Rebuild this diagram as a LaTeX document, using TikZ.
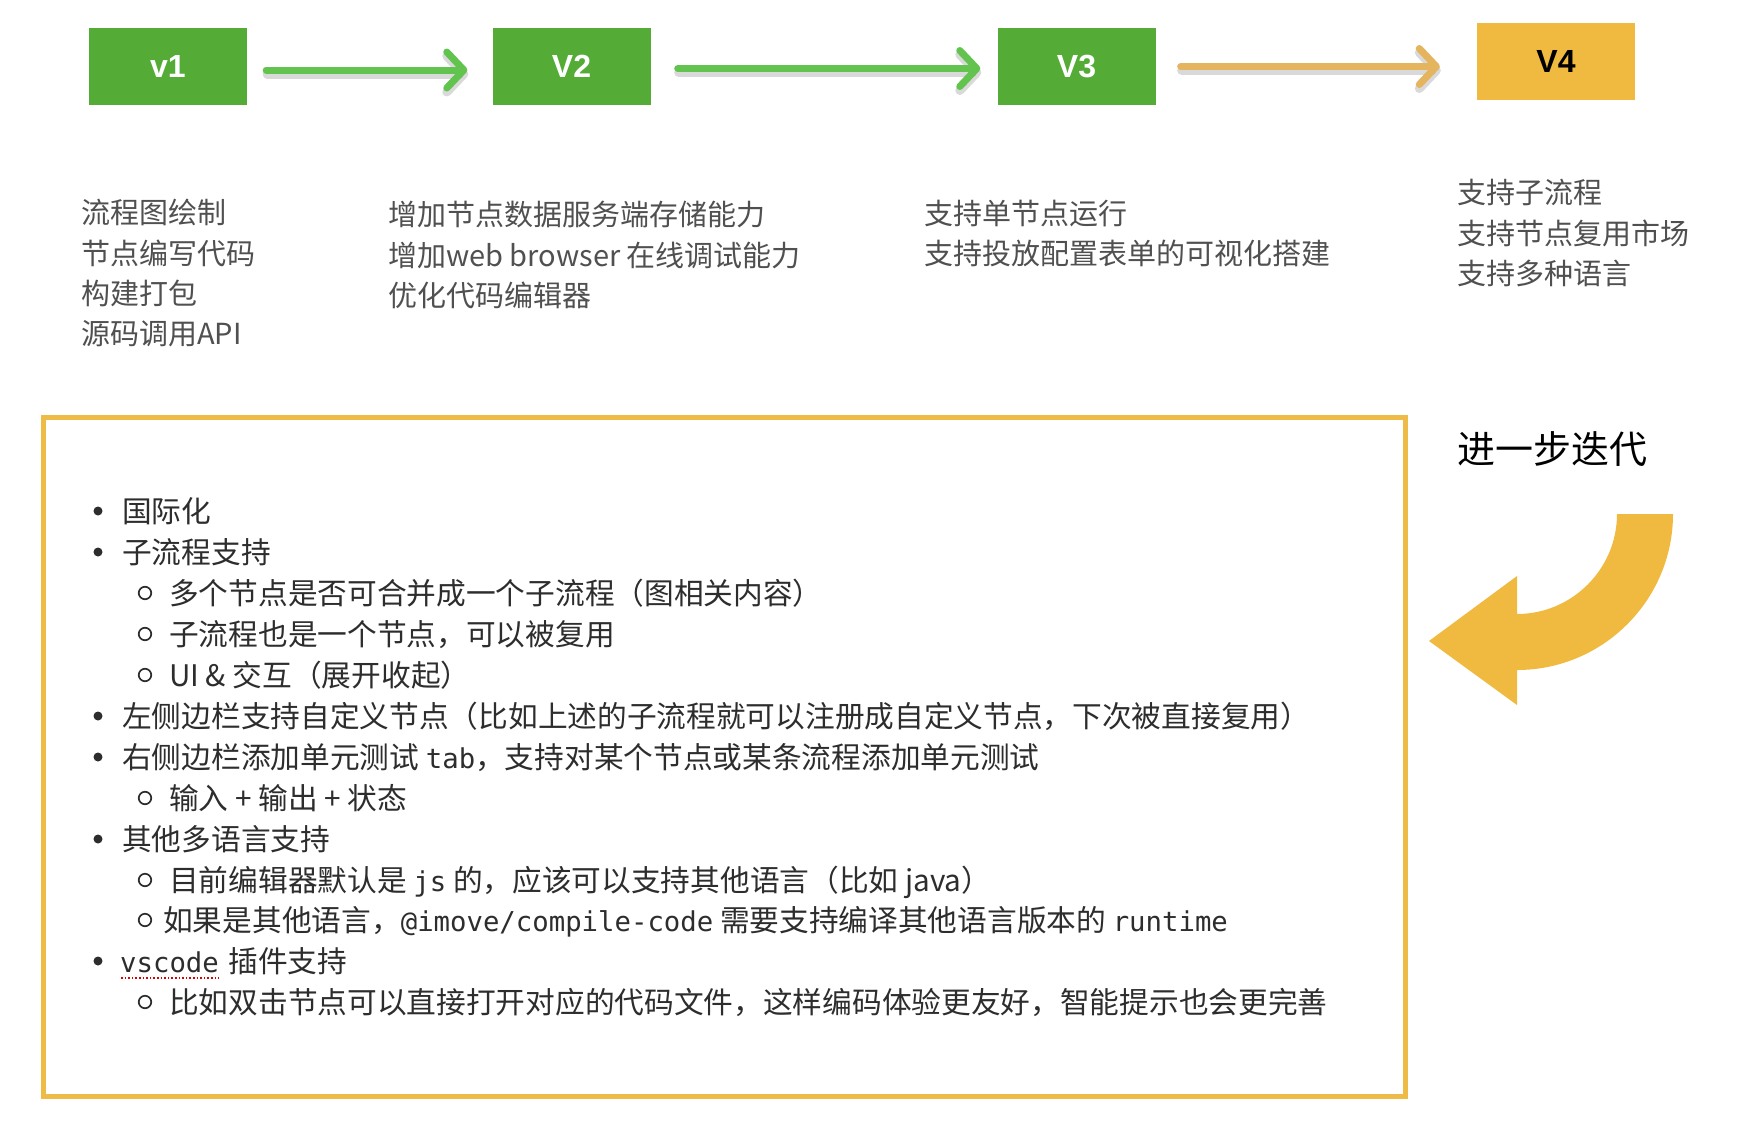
\documentclass[tikz,border=0pt]{standalone}
\usepackage{fontspec}
\setmainfont{Noto Sans CJK SC}
\setmonofont{DejaVu Sans Mono}[Scale=0.92]
\newfontfamily\labelfont{Liberation Sans}
\usetikzlibrary{arrows.meta,calc}
\definecolor{boxgreen}{RGB}{84,171,54}
\definecolor{boxyellow}{RGB}{240,186,64}
\definecolor{arrowgreen}{RGB}{98,196,78}
\definecolor{arrowtan}{RGB}{229,180,94}
\definecolor{panelyellow}{RGB}{238,188,70}
\definecolor{toptext}{RGB}{80,80,80}
\definecolor{listtext}{RGB}{45,45,45}
\tikzset{
  vbox/.style={rectangle, minimum width=158pt, minimum height=77pt, inner sep=0pt,
    font=\labelfont\bfseries\fontsize{32}{32}\selectfont},
  greenbox/.style={vbox, fill=boxgreen, text=white},
  yellowbox/.style={vbox, fill=boxyellow, text=black},
  flowarrow/.style={line width=7pt, line cap=round,
    -{Straight Barb[length=17pt,width=36pt,round]}},
  arrowshadow/.style={flowarrow, draw=black, opacity=0.15, line width=9pt,
    transform canvas={shift={(1pt,-4pt)}}},
  toplabel/.style={anchor=base west, inner sep=0pt, text=toptext,
    font=\fontsize{29}{35}\selectfont},
  listitem/.style={anchor=base west, inner sep=0pt, text=listtext,
    font=\fontsize{29.7}{35}\selectfont},
  dotbullet/.style={circle, fill=listtext, inner sep=0pt, minimum size=9pt},
  ringbullet/.style={circle, draw=listtext, line width=1.7pt, inner sep=0pt, minimum size=12.5pt},
}
\begin{document}
\begin{tikzpicture}[x=1pt,y=-1pt]
\useasboundingbox[fill=white] (0,0) rectangle (1740,1136);

% version boxes
\node[greenbox]  (v1) at (168,66.5) {v1};
\node[greenbox]  (v2) at (571.5,66.5) {V2};
\node[greenbox]  (v3) at (1076.5,66.5) {V3};
\node[yellowbox] (v4) at (1556,61) {V4};

% arrows (shadow + stroke)
\draw[arrowshadow] ($(v1.east)+(19,3.5)$) -- ($(v2.west)+(-25,3.5)$);
\draw[arrowshadow] ($(v2.east)+(27,2)$) -- ($(v3.west)+(-17,2)$);
\draw[arrowshadow] ($(v3.east)+(25,0)$) -- ($(v4.west)+(-37,5.5)$);
\draw[flowarrow, draw=arrowgreen] ($(v1.east)+(19,3.5)$) -- ($(v2.west)+(-25,3.5)$);
\draw[flowarrow, draw=arrowgreen] ($(v2.east)+(27,2)$) -- ($(v3.west)+(-17,2)$);
\draw[flowarrow, draw=arrowtan] ($(v3.east)+(25,0)$) -- ($(v4.west)+(-37,5.5)$);

% feature columns
\node[toplabel] (c1a) at (81,223) {流程图绘制};
\node[toplabel] (c1b) at (81,264) {节点编写代码};
\node[toplabel] (c1c) at (81,304) {构建打包};
\node[toplabel] (c1d) at (81,344) {源码调用API};

\node[toplabel] (c2a) at (388,225) {增加节点数据服务端存储能力};
\node[toplabel] (c2b) at (388,266) {增加web browser 在线调试能力};
\node[toplabel] (c2c) at (388,306) {优化代码编辑器};

\node[toplabel] (c3a) at (924,224) {支持单节点运行};
\node[toplabel] (c3b) at (924,264) {支持投放配置表单的可视化搭建};

\node[toplabel] (c4a) at (1457,203) {支持子流程};
\node[toplabel] (c4b) at (1457,244) {支持节点复用市场};
\node[toplabel] (c4c) at (1457,284) {支持多种语言};

% iteration label and curved arrow
\node[anchor=base west, inner sep=0pt, text=black, font=\fontsize{38}{44}\selectfont]
  (iter) at (1457,463) {进一步迭代};
\fill[boxyellow] (1617,514) -- (1673,514)
  .. controls (1673,600) and (1603,670) .. (1517,670)
  -- (1517,705) -- (1429,641) -- (1517,576) -- (1517,614)
  .. controls (1572,614) and (1617,569) .. (1617,514) -- cycle;

% roadmap panel
\node[draw=panelyellow, line width=5pt, minimum width=1362pt, minimum height=679pt,
  inner sep=0pt] (panel) at (724,756.5) {};

% list
\node[dotbullet]  (b1)  at (98,511)  {};
\node[listitem]   (l1)  at (122,522) {国际化};
\node[dotbullet]  (b2)  at (98,552)  {};
\node[listitem]   (l2)  at (122,563) {子流程支持};
\node[ringbullet] (b3)  at (145,593) {};
\node[listitem]   (l3)  at (169,604) {多个节点是否可合并成一个子流程（图相关内容）};
\node[ringbullet] (b4)  at (145,634) {};
\node[listitem]   (l4)  at (169,645) {子流程也是一个节点，可以被复用};
\node[ringbullet] (b5)  at (145,675) {};
\node[listitem]   (l5)  at (169,686) {UI \& 交互（展开收起）};
\node[dotbullet]  (b6)  at (98,716)  {};
\node[listitem]   (l6)  at (122,727) {左侧边栏支持自定义节点（比如上述的子流程就可以注册成自定义节点，下次被直接复用）};
\node[dotbullet]  (b7)  at (98,757)  {};
\node[listitem]   (l7)  at (122,768) {右侧边栏添加单元测试 \texttt{tab}，支持对某个节点或某条流程添加单元测试};
\node[ringbullet] (b8)  at (145,798) {};
\node[listitem]   (l8)  at (169,809) {输入 + 输出 + 状态};
\node[dotbullet]  (b9)  at (98,839)  {};
\node[listitem]   (l9)  at (122,850) {其他多语言支持};
\node[ringbullet] (b10) at (145,880) {};
\node[listitem]   (l10) at (169,891) {目前编辑器默认是 \texttt{js} 的，应该可以支持其他语言（比如 java）};
\node[ringbullet] (b11) at (145,920) {};
\node[listitem]   (l11) at (163,931) {如果是其他语言，\texttt{@imove/compile-code} 需要支持编译其他语言版本的 \texttt{runtime}};
\node[dotbullet]  (b12) at (98,961)  {};
\node[listitem]   (vs)  at (120,972) {\texttt{vscode}};
\node[listitem]   (l12) at ($(vs.base east)+(9,0)$) {插件支持};
\draw[red!85!black, line width=1.6pt, dotted] ($(vs.base west)+(1,6)$) -- ($(vs.base east)+(0,6)$);
\node[ringbullet] (b13) at (145,1002) {};
\node[listitem]   (l13) at (169,1013) {比如双击节点可以直接打开对应的代码文件，这样编码体验更友好，智能提示也会更完善};
\end{tikzpicture}
\end{document}
